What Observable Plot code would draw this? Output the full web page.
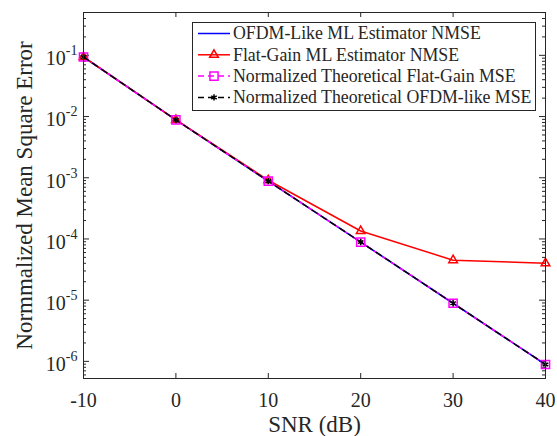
<!DOCTYPE html>
<html><head><meta charset="utf-8">
<script src="https://cdn.jsdelivr.net/npm/d3@7"></script>
<script src="https://cdn.jsdelivr.net/npm/@observablehq/plot@0.6"></script>
<style>body{margin:0;background:#fff;} .lgtext{font-family:"Liberation Serif",serif;font-size:17.8px;}</style>
</head><body><div id="chart"></div>
<script>
const snr = [-10, 0, 10, 20, 30, 40];
const ofdmNMSE = [0.094, 0.0088, 8.8e-4, 8.9e-5, 8.9e-6, 8.9e-7];
const flatNMSE = [0.094, 0.0088, 9.1e-4, 1.35e-4, 4.5e-5, 4.0e-5];
const theoFlatMSE = [0.094, 0.0088, 8.8e-4, 8.9e-5, 8.9e-6, 8.9e-7];
const theoOFDMMSE = [0.094, 0.0088, 8.8e-4, 8.9e-5, 8.9e-6, 8.9e-7];
const seriesNames = [
  "OFDM-Like ML Estimator NMSE",
  "Flat-Gain ML Estimator NMSE",
  "Normalized Theoretical Flat-Gain MSE",
  "Normalized Theoretical OFDM-like MSE"
];
const xTicks = [-10, 0, 10, 20, 30, 40];
const yTicks = [1e-6, 1e-5, 1e-4, 1e-3, 1e-2, 1e-1];
const yTickLabels = ["10^-6", "10^-5", "10^-4", "10^-3", "10^-2", "10^-1"];
const xLabel = "SNR (dB)";
const yLabel = "Normmalized Mean Square Error";

const W = 557, H = 436, mL = 83, mR = 12, mT = 12, mB = 58;
const frameW = W - mL - mR, frameH = H - mT - mB;
const yDomain = [Math.pow(10, -6.28), Math.pow(10, -0.3)];

const yMinor = [];
for (let k = -7; k <= 0; k++) for (let m = 2; m <= 9; m++) {
  const v = m * Math.pow(10, k);
  if (v > yDomain[0] && v < yDomain[1]) yMinor.push(v);
}

const rows = (ys) => snr.map((x, i) => ({x, y: ys[i]}));
const dBlue = rows(ofdmNMSE), dRed = rows(flatNMSE), dMag = rows(theoFlatMSE), dBlk = rows(theoOFDMMSE);
const axisColor = "#262626";
const serif = "'Liberation Serif', serif";

const svg = Plot.plot({
  width: W, height: H,
  marginLeft: mL, marginRight: mR, marginTop: mT, marginBottom: mB,
  style: {fontFamily: serif, fontSize: "20px", color: axisColor, background: "white"},
  x: {domain: [-10, 40]},
  y: {type: "log", domain: yDomain},
  marks: [
    Plot.tickX(xTicks, {x: d => d, insetTop: frameH - 5, stroke: axisColor}),
    Plot.tickX(xTicks, {x: d => d, insetBottom: frameH - 5, stroke: axisColor}),
    Plot.tickY(yTicks, {y: d => d, insetRight: frameW - 6, stroke: axisColor}),
    Plot.tickY(yTicks, {y: d => d, insetLeft: frameW - 6, stroke: axisColor}),
    Plot.tickY(yMinor, {y: d => d, insetRight: frameW - 3, stroke: axisColor}),
    Plot.tickY(yMinor, {y: d => d, insetLeft: frameW - 3, stroke: axisColor}),
    Plot.axisX({ticks: xTicks, tickSize: 0, tickPadding: 14, tickFormat: d => String(d), label: null}),
    Plot.axisY({ticks: yTicks, tickSize: 0, tickPadding: 6, dy: 3.5, tickFormat: (d) => yTickLabels[yTicks.indexOf(d)], label: null}),
    Plot.line(dBlue, {x: "x", y: "y", stroke: "#0000ff", strokeWidth: 1.6}),
    Plot.line(dRed, {x: "x", y: "y", stroke: "#ff0000", strokeWidth: 1.5}),
    Plot.dot(dRed, {x: "x", y: "y", symbol: "triangle", r: 3.2, stroke: "#ff0000", fill: "none", strokeWidth: 1.5}),
    Plot.line(dMag, {x: "x", y: "y", stroke: "#ff00ff", strokeWidth: 1.5, strokeDasharray: "6,4"}),
    Plot.dot(dMag, {x: "x", y: "y", symbol: "square", r: 4.6, stroke: "#ff00ff", fill: "none", strokeWidth: 1.5}),
    Plot.line(dBlk, {x: "x", y: "y", stroke: "#000000", strokeWidth: 1.4, strokeDasharray: "6,5"}),
    Plot.dot(dBlk, {x: "x", y: "y", symbol: "asterisk", r: 3, stroke: "#000000", fill: "#000", strokeWidth: 1.6}),
    Plot.frame({stroke: axisColor}),
    Plot.text([xLabel], {frameAnchor: "bottom", lineAnchor: "middle", textAnchor: "middle", dy: 46, fontSize: 23, fill: axisColor, text: d => d}),
    Plot.text([yLabel], {frameAnchor: "left", lineAnchor: "middle", textAnchor: "middle", rotate: -90, dx: -59, fontSize: 23, fill: axisColor, text: d => d})
  ]
});

d3.select(svg).selectAll('g[aria-label="y-axis tick label"] text').each(function() {
  const [base, exp] = this.textContent.split("^");
  const t = d3.select(this);
  t.text(null);
  t.append("tspan").text(base);
  t.append("tspan").attr("font-size", 14).attr("dy", -10).text(exp);
});

const lg = d3.select(svg).append("g");
lg.append("rect").attr("x", 192.5).attr("y", 22.5).attr("width", 343).attr("height", 88)
  .attr("fill", "white").attr("stroke", axisColor).attr("stroke-width", 1);
const styles = [
  {stroke: "#0000ff", dash: null, sym: null},
  {stroke: "#ff0000", dash: null, sym: d3.symbolTriangle, size: Math.PI * 3.2 * 3.2, fill: "none"},
  {stroke: "#ff00ff", dash: "6,4", sym: d3.symbolSquare, size: Math.PI * 4.6 * 4.6, fill: "none"},
  {stroke: "#000000", dash: "6,4", sym: d3.symbolAsterisk, size: Math.PI * 9, fill: "#000"}
];
seriesNames.forEach((name, i) => {
  const cy = 33.5 + i * 21.3;
  const st = styles[i];
  lg.append("line").attr("x1", 198).attr("x2", 230).attr("y1", cy).attr("y2", cy)
    .attr("stroke", st.stroke).attr("stroke-width", 1.5).attr("stroke-dasharray", st.dash);
  if (st.sym) {
    lg.append("path").attr("d", d3.symbol(st.sym, st.size)()).attr("transform", `translate(214,${cy})`)
      .attr("stroke", st.stroke).attr("fill", st.fill).attr("stroke-width", 1.5);
  }
  lg.append("text").attr("class", "lgtext").attr("x", 233).attr("y", cy).attr("dy", "0.33em")
    .style("font-family", serif).style("font-size", "17.8px").style("text-anchor", "start")
    .attr("fill", axisColor).text(name);
});

document.getElementById("chart").appendChild(svg);
</script>
</body></html>
